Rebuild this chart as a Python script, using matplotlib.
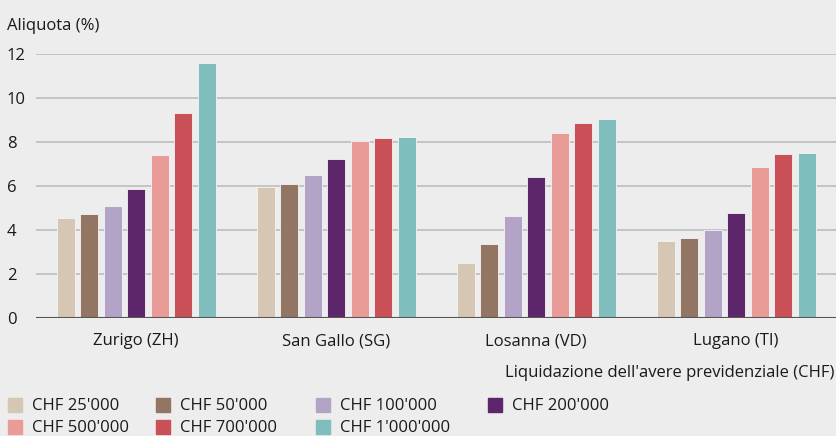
import numpy as np
import matplotlib.pyplot as plt
import matplotlib.transforms as mtransforms

plt.rcParams['font.family'] = ['Open Sans', 'DejaVu Sans']

cities = ["Zurigo (ZH)", "San Gallo (SG)", "Losanna (VD)", "Lugano (TI)"]
amounts = ["CHF 25'000", "CHF 50'000", "CHF 100'000", "CHF 200'000",
           "CHF 500'000", "CHF 700'000", "CHF 1'000'000"]
colors = ["#d5c7b4", "#927563", "#b3a3c6", "#5d266b",
          "#e89b97", "#c95056", "#80bdbd"]

# tax rate (%) per city, one list per withdrawal amount
rate_25k = [4.55, 5.97, 2.49, 3.49]
rate_50k = [4.72, 6.07, 3.34, 3.64]
rate_100k = [5.08, 6.48, 4.61, 3.99]
rate_200k = [5.86, 7.21, 6.39, 4.78]
rate_500k = [7.41, 8.03, 8.40, 6.85]
rate_700k = [9.33, 8.18, 8.87, 7.47]
rate_1m = [11.60, 8.24, 9.07, 7.52]
series = [rate_25k, rate_50k, rate_100k, rate_200k, rate_500k, rate_700k, rate_1m]

bg = "#ededed"
txt = "#1a1a1a"
fs = 12
W, H = 836, 436

def fy(py):
    # pixel row from the top -> figure fraction
    return 1 - py / H

fig = plt.figure(figsize=(W / 100, H / 100), dpi=100, facecolor=bg)
ax = fig.add_axes([36 / W, fy(317.5), 800 / W, (317.5 - 54.3) / H])
ax.set_facecolor(bg)

x = np.arange(len(cities))
pitch = 0.1175
width = 0.09
for i, (vals, c) in enumerate(zip(series, colors)):
    off = (i - 3) * pitch
    ax.bar(x + off, vals, width, color=c, edgecolor="#f4f4f4", linewidth=0.6,
           zorder=3, label=amounts[i])

ax.set_xlim(-0.5, 3.5)
ax.set_ylim(0, 12)
ax.set_yticks(range(0, 13, 2))
ax.set_yticklabels([])
ax.set_xticks([])
ax.yaxis.grid(True, color="#bdbdbd", linewidth=1.2, zorder=0)
ax.tick_params(length=0)
ax.axhline(0, color="#555555", linewidth=1.5, zorder=4)
for s in ax.spines.values():
    s.set_visible(False)

# y tick labels, left aligned at the figure edge
blend_y = mtransforms.blended_transform_factory(fig.transFigure, ax.transData)
offs = mtransforms.ScaledTranslation(0, -6 / 100, fig.dpi_scale_trans)
for v in range(0, 13, 2):
    ax.text(7 / W, v, str(v), transform=blend_y + offs, ha="left",
            va="baseline", fontsize=fs, color=txt)

# city names under each group
blend_x = mtransforms.blended_transform_factory(ax.transData, fig.transFigure)
for xi, name in zip(x, cities):
    ax.text(xi, fy(345), name, transform=blend_x, ha="center",
            va="baseline", fontsize=fs, color=txt)

fig.text(7 / W, fy(29.5), "Aliquota (%)", ha="left", va="baseline",
         fontsize=fs, color=txt)
fig.text(834.5 / W, fy(376.5), "Liquidazione dell'avere previdenziale (CHF)",
         ha="right", va="baseline", fontsize=fs, color=txt)

# legend drawn by hand in two rows
leg_x = [8, 156, 316, 488]
leg_base = [410, 432]
leg_top = [398, 420]
for i, (lab, c) in enumerate(zip(amounts, colors)):
    row, col = divmod(i, 4)
    lx = leg_x[col]
    fig.patches.append(plt.Rectangle((lx / W, fy(leg_top[row] + 14)), 14 / W, 14 / H,
                                     transform=fig.transFigure, color=c))
    fig.text((lx + 24) / W, fy(leg_base[row]), lab, ha="left", va="baseline",
             fontsize=fs, color=txt)

fig.savefig("out.png", dpi=100, facecolor=bg)
